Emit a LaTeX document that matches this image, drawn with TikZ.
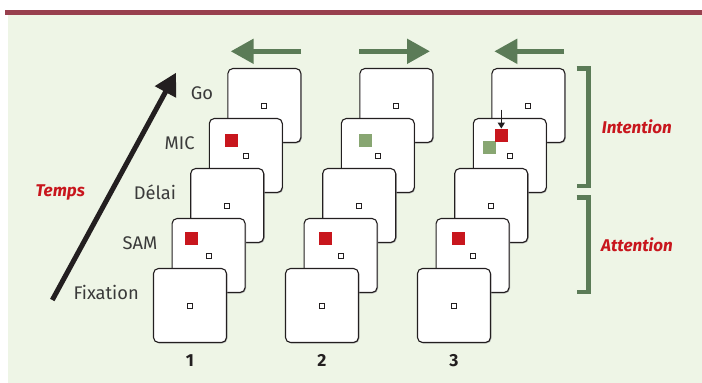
\documentclass[tikz,border=0pt]{standalone}
\usepackage{fontspec}
\setmainfont{Fira Sans}
\usetikzlibrary{arrows.meta}
\definecolor{bg}{HTML}{EEF5E6}
\definecolor{barred}{HTML}{98404E}
\definecolor{dgreen}{HTML}{5B7B57}
\definecolor{lgreen}{HTML}{88A672}
\definecolor{sred}{HTML}{C8161D}
\definecolor{ink}{HTML}{231F20}
\definecolor{txt}{HTML}{3A3A3A}
\begin{document}
\begin{tikzpicture}[x=1pt,y=-1pt,
  card/.style={draw=ink, line width=1.1pt, fill=white, rounded corners=5pt, minimum width=73pt, minimum height=74pt, inner sep=0pt},
  shadowcard/.style={fill=black!35, rounded corners=5pt, minimum width=73pt, minimum height=74pt, inner sep=0pt},
  fix/.style={draw=ink, line width=0.9pt, fill=white, minimum size=5pt, inner sep=0pt},
  cue/.style={fill=sred, minimum size=13pt, inner sep=0pt},
  gcue/.style={fill=lgreen, minimum size=13pt, inner sep=0pt},
  steplabel/.style={font=\fontsize{18.3}{18.3}\selectfont, text=txt, anchor=base east, inner sep=0pt},
  redlabel/.style={font=\fontsize{17}{17}\selectfont\bfseries\itshape, text=sred, inner sep=0pt},
  numlabel/.style={font=\fontsize{17.5}{17.5}\selectfont\bfseries, text=ink, anchor=base, inner sep=0pt},
  garrow/.style={draw=dgreen, line width=5pt, -{Triangle[length=23pt,width=24pt]}},
  bracket/.style={draw=dgreen, line width=4.5pt, line join=miter}
]
\useasboundingbox (0,0) rectangle (702,383);
\fill[bg] (8,15) rectangle (702,383);
\fill[barred] (5,10) rectangle (702,15);

% cards
\foreach \c in {0,1,2} {
  \foreach \k in {4,3,2,1,0} {
    \pgfmathsetmacro\cx{190+132*\c+18.6*\k}
    \pgfmathsetmacro\cy{305.5-50*\k}
    \node[shadowcard] (shadow-\c-\k) at (\cx+0.9,\cy+0.9) {};
    \node[card] (card-\c-\k) at (\cx,\cy) {};
    \node[fix] (fix-\c-\k) at (card-\c-\k.center) {};
  }
}

% cues
\node[cue] (sam-0) at ([shift={(-17,-17.2)}]card-0-1.center) {};
\node[cue] (sam-1) at ([shift={(-14.8,-17.2)}]card-1-1.center) {};
\node[cue] (sam-2) at ([shift={(-14.4,-17.2)}]card-2-1.center) {};
\node[cue] (mic-0) at ([shift={(-14.5,-15.2)}]card-0-3.center) {};
\node[gcue] (mic-1) at ([shift={(-12.3,-15)}]card-1-3.center) {};
\node[gcue] (mic-2g) at ([shift={(-20.3,-8.3)}]card-2-3.center) {};
\node[cue] (mic-2r) at ([shift={(-8.5,-20.2)}]card-2-3.center) {};
\coordinate (saccstart) at ([shift={(0,-19)}]mic-2r.north);
\draw[ink, line width=1.3pt, -{Triangle[length=6pt,width=7pt]}] (saccstart) -- (mic-2r.north);

% step labels
\foreach \k/\t in {0/Fixation,1/SAM,2/Délai,3/MIC,4/Go} {
  \node[steplabel] (lab-\k) at ([shift={(-14,-6.2)}]card-0-\k.west) {\t};
}

% time arrow
\coordinate (time0) at (52.3,300);
\coordinate (time1) at (176,72.7);
\draw[ink, line width=5pt, -{Triangle[length=22pt,width=23pt]}] (time0) -- (time1);
\node[redlabel, anchor=base east] (temps) at (85,196.7) {Temps};

% direction arrows
\coordinate (g0a) at (301,51.3);   \coordinate (g0b) at (230.7,51.3);
\coordinate (g1a) at (359.3,51.3); \coordinate (g1b) at (430,51.3);
\coordinate (g2a) at (564,51.3);   \coordinate (g2b) at (494.3,51.3);
\draw[garrow] (g0a) -- (g0b);
\draw[garrow] (g1a) -- (g1b);
\draw[garrow] (g2a) -- (g2b);

% numbers
\foreach \c/\n in {0/1,1/2,2/3} {
  \node[numlabel] (num-\c) at ([shift={(0,61.2)}]card-\c-0.center) {\n};
}

% brackets
\draw[bracket] (576.7,68.25) -- (588.3,68.25) -- (588.3,186.05) -- (576.7,186.05);
\draw[bracket] (576.7,197.25) -- (588.3,197.25) -- (588.3,292.05) -- (576.7,292.05);
\node[redlabel, anchor=base west] (intention) at (601.7,133.3) {Intention};
\node[redlabel, anchor=base west] (attention) at (601,251) {Attention};
\end{tikzpicture}
\end{document}
